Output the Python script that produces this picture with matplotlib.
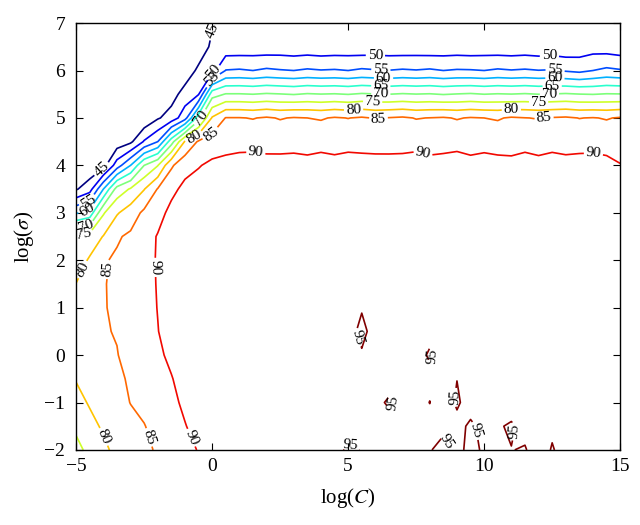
import numpy as np
import matplotlib
matplotlib.use("Agg")
import matplotlib.pyplot as plt

plt.rcParams["font.family"] = ["Liberation Serif", "DejaVu Serif"]
plt.rcParams["mathtext.fontset"] = "stix"

# grid of the search: log(C) across, log(sigma) down the rows
log_c = np.arange(-5.0, 15.01, 0.5)
log_sigma = np.arange(-2.0, 7.01, 0.5)

# accuracy (%), one list per log(sigma) row
#            x=-5 ... 0.5 (12 values)                                               | x=1 ... 15 (29 values)
acc_m20 = [73.5, 76.4, 78.8, 81.5, 82.5, 83.5, 85.8, 87.5, 88.8, 90.2, 91.3, 92.0,
           92.5, 92.8, 93.0, 93.2, 93.3, 93.4, 93.6, 94.0, 95.5, 94.9, 93.8, 93.6, 93.9, 94.2, 94.8, 96.0,
           94.0, 96.0, 94.5, 94.0, 94.9, 95.3, 93.0, 95.3, 93.5, 93.8, 93.6, 93.9, 93.5]
acc_m15 = [76.0, 78.5, 80.7, 82.5, 83.8, 84.8, 86.7, 88.2, 89.8, 91.5, 92.3, 92.5,
           92.2, 92.6, 92.9, 93.1, 93.2, 93.3, 93.4, 93.6, 93.5, 93.9, 93.7, 94.05, 93.6, 93.8, 94.0, 94.3,
           93.9, 95.6, 94.0, 94.6, 95.5, 93.8, 93.6, 94.3, 93.7, 93.5, 93.8, 93.6, 93.4]
acc_m10 = [78.3, 80.5, 82.3, 83.5, 85.1, 86.3, 87.5, 89.0, 90.8, 92.2, 92.8, 92.6,
           91.8, 92.3, 92.7, 93.0, 93.1, 93.2, 93.4, 93.5, 93.6, 93.8, 94.4, 95.3, 94.4, 94.0, 95.05, 93.0,
           95.5, 93.5, 93.8, 93.6, 93.0, 93.7, 93.5, 93.8, 93.6, 93.4, 93.7, 93.5, 93.3]
acc_m05 = [80.3, 82.0, 83.5, 83.8, 85.8, 87.3, 88.5, 89.8, 91.5, 92.6, 93.1, 92.9,
           91.5, 92.0, 92.5, 92.9, 93.1, 93.2, 93.3, 93.4, 93.5, 93.8, 93.6, 94.05, 93.7, 93.9, 94.3, 94.0,
           94.95, 94.0, 93.7, 93.5, 93.6, 93.8, 93.5, 93.7, 93.4, 93.6, 93.5, 93.3, 93.2]
acc_00 = [81.8, 83.3, 84.3, 84.8, 86.8, 88.0, 89.3, 90.8, 92.0, 92.9, 93.3, 93.1,
          91.6, 92.1, 92.6, 92.9, 93.1, 93.3, 93.4, 93.5, 93.6, 94.6, 93.7, 93.8, 93.9, 94.1, 95.3, 94.1,
          93.9, 93.8, 93.6, 93.7, 93.5, 93.6, 93.4, 93.5, 93.3, 93.5, 93.4, 93.2, 93.1]
acc_05 = [82.3, 83.8, 84.6, 85.3, 87.2, 88.4, 89.9, 91.5, 92.3, 93.0, 93.4, 93.2,
          91.8, 92.3, 92.7, 93.0, 93.2, 93.3, 93.4, 93.4, 93.5, 96.0, 93.5, 93.6, 93.7, 93.8, 94.3, 93.9,
          93.7, 93.6, 93.5, 93.6, 93.4, 93.5, 93.3, 93.4, 93.2, 93.4, 93.3, 93.1, 93.0]
acc_10 = [81.8, 83.5, 84.7, 85.8, 87.5, 88.6, 90.1, 91.6, 92.5, 93.1, 93.4, 93.3,
          92.0, 92.5, 92.8, 93.1, 93.2, 93.3, 93.4, 93.5, 93.4, 94.7, 93.6, 93.5, 93.6, 93.7, 93.6, 93.5,
          93.6, 93.4, 93.5, 93.3, 93.4, 93.2, 93.3, 93.1, 93.2, 93.0, 93.1, 93.0, 92.9]
acc_15 = [80.1, 82.3, 84.7, 86.0, 87.6, 88.8, 90.2, 91.7, 92.6, 93.1, 93.4, 93.2,
          92.6, 93.0, 93.2, 93.4, 93.3, 93.5, 93.4, 93.6, 93.5, 93.7, 93.5, 93.4, 93.6, 93.5, 93.7, 93.4,
          93.6, 93.5, 93.3, 93.5, 93.4, 93.2, 93.4, 93.3, 93.1, 93.3, 93.2, 93.0, 92.9]
acc_20 = [77.5, 80.6, 84.6, 85.6, 87.3, 88.7, 90.3, 91.8, 92.6, 93.1, 93.3, 93.2,
          93.0, 93.3, 93.4, 93.5, 93.6, 93.4, 93.5, 93.7, 93.5, 93.6, 93.4, 93.6, 93.5, 93.7, 93.4, 93.6,
          93.5, 93.3, 93.6, 93.4, 93.5, 93.3, 93.6, 93.4, 93.5, 93.3, 93.4, 93.2, 93.1]
acc_25 = [76.3, 77.2, 80.2, 84.5, 85.8, 88.0, 90.3, 91.6, 92.5, 93.0, 93.2, 93.1,
          93.2, 93.4, 93.3, 93.5, 93.3, 93.2, 93.5, 93.3, 93.4, 93.6, 93.3, 93.5, 93.4, 93.2, 93.5, 93.3,
          93.4, 93.6, 93.3, 93.5, 93.2, 93.4, 93.3, 93.5, 93.4, 93.2, 93.3, 93.4, 93.0]
acc_30 = [59.5, 62.0, 74.5, 79.5, 82.5, 86.0, 88.3, 91.3, 92.3, 92.8, 93.2, 93.0,
          93.0, 93.2, 93.1, 93.3, 93.2, 93.0, 93.3, 93.1, 93.2, 93.4, 93.1, 93.3, 93.2, 93.0, 93.3, 93.1,
          93.2, 93.4, 93.1, 93.3, 93.0, 93.2, 93.1, 93.3, 93.2, 93.0, 93.1, 93.2, 92.8]
acc_35 = [44.5, 48.0, 60.0, 72.0, 75.5, 79.8, 85.3, 88.8, 91.2, 92.0, 92.8, 92.8,
          92.6, 92.8, 92.7, 92.5, 92.8, 92.6, 92.7, 92.9, 92.6, 92.8, 92.5, 92.7, 92.8, 92.6, 92.7, 92.9,
          92.6, 92.8, 92.5, 92.7, 92.6, 92.8, 92.7, 92.5, 92.8, 92.6, 92.7, 92.5, 92.0]
acc_40 = [40.0, 41.0, 43.0, 52.5, 60.0, 70.0, 74.8, 84.3, 88.3, 89.7, 91.0, 91.3,
          92.0, 91.8, 91.5, 91.2, 91.6, 91.4, 91.7, 91.3, 91.5, 91.8, 91.4, 91.2, 91.6, 91.9, 91.3, 91.5,
          91.7, 91.2, 91.6, 91.4, 91.0, 91.6, 91.2, 91.7, 91.3, 91.5, 91.4, 91.2, 90.2]
acc_45 = [37.0, 38.0, 40.0, 42.0, 44.0, 50.5, 55.0, 67.8, 80.5, 85.6, 87.3, 88.3,
          88.3, 88.6, 88.4, 88.7, 88.5, 88.2, 88.6, 88.4, 88.8, 88.3, 88.5, 88.7, 88.4, 88.6, 88.3, 88.5,
          88.8, 88.4, 88.6, 88.2, 88.5, 88.7, 88.3, 88.6, 88.4, 88.5, 88.7, 88.3, 87.8]
acc_50 = [35.0, 36.0, 38.0, 39.0, 40.0, 41.0, 44.5, 47.0, 53.0, 68.0, 80.5, 85.2,
          85.2, 84.8, 85.5, 84.7, 85.3, 85.0, 84.6, 85.4, 84.9, 85.5, 84.7, 85.2, 85.6, 84.8, 85.1, 85.4,
          84.7, 85.3, 85.0, 84.6, 85.5, 85.1, 84.8, 85.3, 85.6, 84.9, 85.2, 84.7, 85.4]
acc_55 = [33.0, 34.0, 36.0, 37.0, 37.5, 38.0, 40.0, 43.0, 47.0, 49.7, 68.0, 70.3,
          70.3, 70.0, 70.5, 70.2, 69.8, 70.4, 70.1, 70.3, 69.9, 70.5, 70.2, 70.0, 70.4, 70.1, 70.3, 69.8,
          70.2, 70.5, 70.0, 70.3, 70.1, 70.4, 70.0, 70.2, 70.5, 70.1, 69.9, 70.3, 70.2]
acc_60 = [32.0, 33.0, 34.0, 35.0, 35.5, 36.0, 38.0, 40.0, 42.0, 46.0, 48.0, 55.2,
          55.5, 55.0, 55.8, 55.3, 55.0, 55.6, 55.2, 55.4, 55.0, 55.7, 55.3, 55.1, 55.5, 55.2, 55.6, 55.0,
          55.4, 55.3, 55.0, 55.6, 55.2, 55.5, 55.1, 55.3, 54.5, 53.8, 55.0, 56.0, 55.4]
acc_65 = [31.0, 32.0, 33.0, 34.0, 34.5, 35.0, 36.0, 38.0, 40.0, 42.0, 46.0, 46.8,
          46.8, 47.0, 46.9, 47.1, 46.8, 47.0, 46.7, 46.9, 47.0, 46.8, 47.1, 46.9, 46.8, 47.0, 46.7, 46.9,
          47.0, 46.8, 47.1, 46.9, 46.8, 47.0, 46.7, 46.9, 46.5, 47.0, 47.8, 47.5, 46.9]
acc_70 = [30.0, 31.0, 32.0, 33.0, 33.5, 34.0, 35.0, 37.0, 39.0, 40.0, 44.5, 45.8,
          46.0, 46.2, 46.5, 46.3, 46.0, 46.2, 46.4, 46.1, 46.0, 46.3, 46.5, 46.2, 46.0, 46.3, 46.1, 46.0,
          46.4, 46.2, 46.0, 46.3, 46.5, 46.2, 46.0, 46.1, 46.3, 46.0, 46.2, 46.4, 46.1]

levels = [45, 50, 55, 60, 65, 70, 75, 80, 85, 90, 95]

acc = np.array([acc_m20, acc_m15, acc_m10, acc_m05, acc_00, acc_05, acc_10, acc_15, acc_20,
                acc_25, acc_30, acc_35, acc_40, acc_45, acc_50, acc_55, acc_60, acc_65, acc_70])

fig = plt.figure(figsize=(6.4, 5.25), dpi=100)
ax = fig.add_axes([0.119, 0.143, 0.85, 0.813])

cs = ax.contour(log_c, log_sigma, acc, levels=levels, cmap="jet", vmin=45, vmax=95, linewidths=1.2)

# where the labels sit in the original
label_spots = [
    (-0.05, 6.85), (-4.1, 3.95),
    (6.0, 6.3), (12.4, 6.3), (-4.6, 3.3), (0.05, 5.95),
    (6.2, 5.98), (12.6, 5.98), (-0.05, 5.83),
    (6.3, 5.83), (12.6, 5.83), (-4.55, 3.0),
    (6.2, 5.67), (12.5, 5.67),
    (6.2, 5.5), (12.4, 5.5), (-4.65, 2.72),
    (5.9, 5.33), (12.0, 5.33), (-4.7, 2.5), (-0.4, 5.0),
    (5.2, 5.17), (11.0, 5.17), (-0.7, 4.63), (-4.75, 1.8), (-4.1, -1.75),
    (6.1, 5.0), (12.2, 5.0), (-0.1, 4.72), (-3.75, 1.8), (-2.4, -1.75),
    (1.6, 4.25), (7.75, 4.25), (14.0, 4.2), (-2.0, 1.85), (-0.8, -1.75),
    (5.5, 0.4), (8.05, 0.0), (6.6, -1.0), (9.0, -0.9), (8.5, -1.85),
    (9.6, -1.6), (11.1, -1.6), (5.05, -1.95),
]
ax.clabel(cs, fmt="%d", fontsize=11, colors="black", inline=True, inline_spacing=2,
          manual=label_spots)

ax.set_xlim(-5, 15)
ax.set_ylim(-2, 7)
ax.set_xticks([-5, 0, 5, 10, 15])
ax.set_yticks(range(-2, 8))
ax.tick_params(direction="in", top=True, right=True, labelsize=14, length=5, width=0.8)
ax.tick_params(axis="y", pad=8)
ax.tick_params(axis="x", pad=6)
for s in ax.spines.values():
    s.set_linewidth(1.0)

ax.set_xlabel("log($C$)", fontsize=15, labelpad=8)
ax.set_ylabel(r"log($\sigma$)", fontsize=15, labelpad=6)

fig.savefig("out.png", dpi=100)
